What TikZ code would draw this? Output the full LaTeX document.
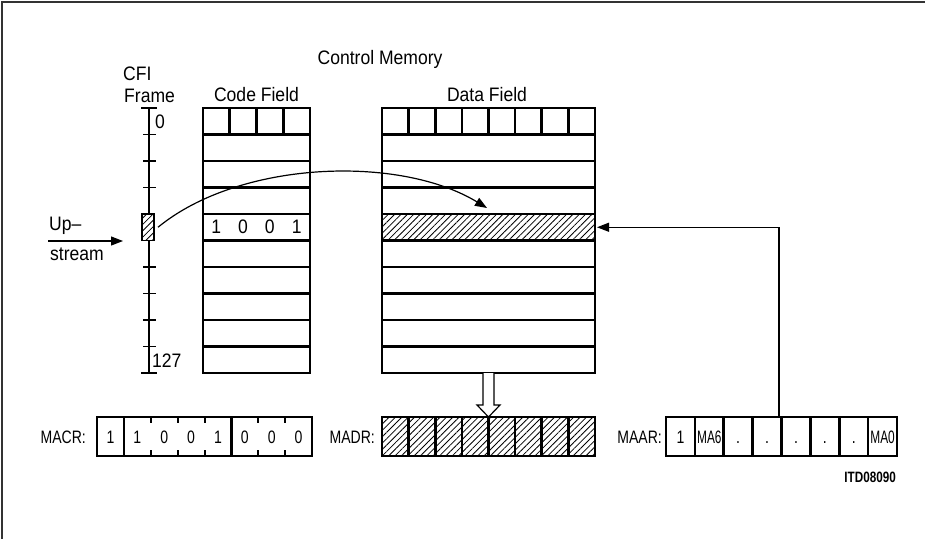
\documentclass[tikz,border=0pt]{standalone}
\usepackage{fontspec}
\setmainfont{Liberation Sans}[FakeStretch=0.9]
\newfontfamily\narrowfont{Liberation Sans}[FakeStretch=0.78]
\newfontfamily\tightfont{Liberation Sans}[FakeStretch=0.66]
\usetikzlibrary{arrows.meta, positioning, calc, patterns.meta}

\begin{document}
\begin{tikzpicture}[
    x=1pt, y=-1pt,
    lbl/.style={font=\fontsize{19.5}{23}\selectfont, inner sep=0pt},
    reglbl/.style={font=\narrowfont\fontsize{18}{21}\selectfont, inner sep=0pt, anchor=base east},
    bit/.style={font=\narrowfont\fontsize{18}{21}\selectfont, inner sep=0pt, anchor=base},
    row/.style={draw, line width=2.6pt, outer sep=0pt, inner sep=0pt, minimum height=26.5pt},
    hatch/.style={pattern={Lines[angle=45, distance=4.5pt, line width=0.8pt]}},
    regcell/.style={draw, line width=2.6pt, outer sep=0pt, inner sep=0pt,
        minimum height=39pt, text height=13pt, text depth=0pt,
        font=\narrowfont\fontsize{18}{21}\selectfont},
    arr/.style={-{Triangle[length=12pt, width=9pt]}, line width=1.2pt},
    scaleline/.style={line width=1.2pt}
]
    \useasboundingbox (0,0) rectangle (925,539);
    \draw[line width=1.4pt, black!80] (925,2) -- (2,2) -- (2,539);

    \node[lbl, anchor=base] (title) at (380,64) {Control Memory};
    \node[lbl, anchor=base west] (cfi) at (123,80) {CFI};
    \node[lbl, anchor=base west] (frame) at (124,102) {Frame};
    \node[lbl, anchor=base] (cflbl) at (256.5,101) {Code Field};
    \node[lbl, anchor=base] (dflbl) at (487,101) {Data Field};

    \foreach \k in {1,...,4}
        \node[row, minimum width=26.75pt] (cfh\k) at (203+26.75*\k-13.375, 121.25) {};
    \foreach \i in {1,...,9}
        \node[row, minimum width=107pt] (cf\i) at (256.5, 121.25+26.5*\i) {};
    \foreach \d [count=\k] in {1,0,0,1}
        \node[lbl, anchor=base] (cb\k) at (203+26.75*\k-13.375, 233.5) {\d};

    \foreach \k in {1,...,8}
        \node[row, minimum width=26.625pt] (dfh\k) at (382+26.625*\k-13.3125, 121.25) {};
    \foreach \i in {1,2,3,5,6,7,8,9}
        \node[row, minimum width=213pt] (df\i) at (488.5, 121.25+26.5*\i) {};
    \node[row, hatch, minimum width=213pt] (df4) at (488.5, 227.25) {};

    \draw[scaleline] (149,108) -- (149,373);
    \draw[scaleline] (141,108) -- (157,108);
    \draw[scaleline] (141,373) -- (157,373);
    \foreach \i in {1,2,3,6,7,8,9}
        \draw[scaleline] (143,108+26.5*\i) -- (156,108+26.5*\i);
    \node[draw, line width=1.2pt, preaction={fill=white}, hatch, inner sep=0pt, outer sep=0pt,
        minimum width=12pt, minimum height=26.5pt] (slot) at (148,227.25) {};
    \node[lbl, anchor=base west] (first) at (155,128) {0};
    \node[lbl, anchor=base west] (last) at (152,367) {127};

    \node[lbl, anchor=base west] (up) at (49,230) {Up--};
    \node[lbl, anchor=base west] (stream) at (50,260) {stream};
    \coordinate (upfrom) at (48,241);
    \draw[arr] (upfrom) -- ([xshift=-19pt, yshift=-13.75pt]slot.west);

    \draw[arr] ([xshift=4pt]slot.east) .. controls (240,160) and (400,155) .. ([xshift=-1.5pt, yshift=-7.25pt]df3.center);

    \node[reglbl] (macrlbl) at (86,443) {MACR:};
    \node[draw, line width=2.6pt, inner sep=0pt, outer sep=0pt, minimum width=215pt, minimum height=39pt] (macr) at (204.5,436.5) {};
    \foreach \k in {1,5}
        \draw[line width=2.6pt] ([xshift=\k*26.875pt]macr.north west) -- ([xshift=\k*26.875pt]macr.south west);
    \foreach \k in {2,3,4,6,7} {
        \draw[line width=2pt] ([xshift=\k*26.875pt]macr.north west) -- ++(0,6);
        \draw[line width=2pt] ([xshift=\k*26.875pt]macr.south west) -- ++(0,-6);
    }
    \foreach \b [count=\k] in {1,1,0,0,1,0,0,0}
        \node[bit] (mb\k) at (97+26.875*\k-13.4375, 443) {\b};

    \node[reglbl] (madrlbl) at (375,443) {MADR:};
    \foreach \k in {1,...,8}
        \node[regcell, hatch, minimum width=26.625pt] (md\k) at (382+26.625*\k-13.3125, 436.5) {};
    \draw[line width=1.2pt, fill=white] ([xshift=-5.5pt]df9.south) -- ++(0,32) -- ++(-6,0) -- (md4.north east)
        -- ++(11.5,-12) -- ++(-6,0) -- ([xshift=5.5pt]df9.south);

    \node[reglbl] (maarlbl) at (662,443) {MAAR:};
    \foreach \t [count=\k] in {1,{\tightfont MA6},.,.,.,.,.,{\tightfont MA0}}
        \node[regcell, minimum width=28.875pt] (ma\k) at (666+28.875*\k-14.4375, 436.5) {\t};
    \coordinate (tap) at ([xshift=-2.6pt]ma4.north east);
    \draw[arr] (tap) |- ([xshift=2pt]df4.east);

    \node[font=\narrowfont\bfseries\fontsize{15}{17}\selectfont, inner sep=0pt, anchor=base east] (id) at (896,482) {ITD08090};
\end{tikzpicture}
\end{document}
